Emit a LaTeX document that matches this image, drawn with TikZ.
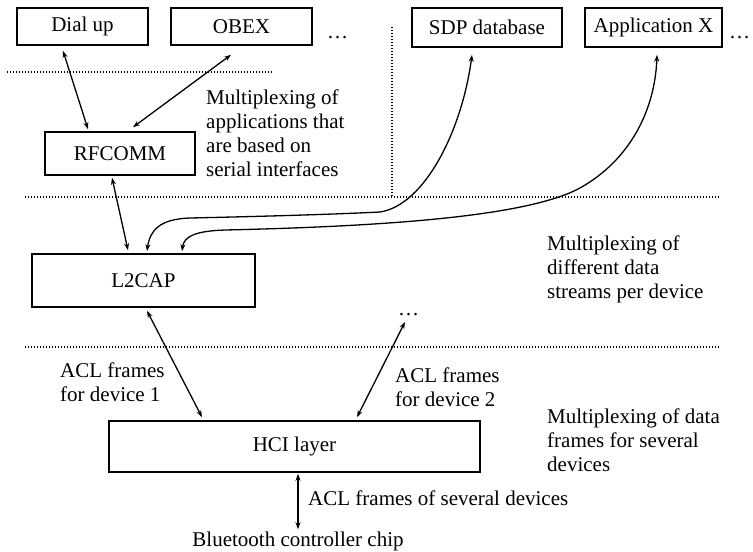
\documentclass[tikz,border=0pt]{standalone}
\usepackage{fontspec}
\setmainfont{Liberation Serif}
\usetikzlibrary{arrows.meta}
\begin{document}
\begin{tikzpicture}[x=1pt,y=-1pt,
  every node/.style={font=\fontsize{21}{24}\selectfont},
  box/.style={draw,line width=1.6pt,rectangle,inner sep=0pt},
  conn/.style={line width=1.3pt,{Stealth[length=7pt,width=5pt]}-{Stealth[length=7pt,width=5pt]}},
  sep/.style={line width=1.4pt,dash pattern=on 1.4pt off 1.6pt},
  lbl/.style={align=left,inner sep=0pt,anchor=north west}]
\useasboundingbox (0,0) rectangle (753,552);
% boxes
\node[box,minimum width=131pt,minimum height=37pt] (dial) at (82.5,26.5) {Dial up};
\node[box,minimum width=141pt,minimum height=37pt] (obex) at (241.5,26.5) {OBEX};
\node[box,minimum width=150pt,minimum height=39pt] (sdp) at (487,27.5) {SDP database};
\node[box,minimum width=137pt,minimum height=39pt] (appx) at (653.5,27.5) {Application X};
\node[box,minimum width=150pt,minimum height=43pt] (rfcomm) at (120,153.5) {RFCOMM};
\node[box,minimum width=223pt,minimum height=53pt] (l2cap) at (143.5,280.5) {L2CAP};
\node[box,minimum width=371pt,minimum height=51pt] (hci) at (294.5,446.5) {HCI layer};
% dots
\node[anchor=base west,inner sep=0pt] (dots1) at (327,38) {…};
\node[anchor=base west,inner sep=0pt] (dots3) at (729,38) {…};
\node[anchor=base west,inner sep=0pt] (dots2) at (398,315) {…};
\coordinate (d2) at (405,322);
% separators
\draw[sep] (7,72) -- (272,72);
\draw[sep] (25,197) -- (720,197);
\draw[sep] (25,347) -- (720,347);
\draw[sep] (392,27) -- (392,197);
% labels
\node[lbl] (m1) at (206,89.5) {Multiplexing of\\applications that\\are based on\\serial interfaces};
\node[lbl] (m2) at (547,235.5) {Multiplexing of\\different data\\streams per device};
\node[lbl] (m3) at (547,408.5) {Multiplexing of data\\frames for several\\devices};
\node[lbl] (a1) at (60,362.5) {ACL frames\\for device 1};
\node[lbl] (a2) at (395,367.5) {ACL frames\\for device 2};
\node[anchor=base west,inner sep=0pt] (a3) at (308,505) {ACL frames of several devices};
\node[anchor=base,inner sep=2pt] (chip) at (298,546) {Bluetooth controller chip};
% connectors
\draw[conn] ([xshift=-19.5pt,yshift=-5pt]dial.south) -- ([xshift=-32pt,yshift=2pt]rfcomm.north);
\draw[conn] ([xshift=-10.5pt,yshift=-9pt]obex.south) -- ([xshift=13pt,yshift=4pt]rfcomm.north);
\draw[conn] ([xshift=-8pt,yshift=-2pt]rfcomm.south) -- ([xshift=-15.5pt,yshift=3pt]l2cap.north);
\draw[conn] ([xshift=3.5pt,yshift=2pt]l2cap.north) .. controls (150,230) and (160,219) .. (190,218)
   .. controls (280,216) and (340,214) .. (380,212)
   .. controls (425,205) and (462,130) .. ([xshift=-15pt,yshift=-7pt]sdp.south);
\draw[conn] ([xshift=38.5pt,yshift=2pt]l2cap.north) .. controls (184,236) and (196,231) .. (225,230)
   .. controls (400,226) and (530,215) .. (580,188)
   .. controls (630,160) and (655,110) .. ([xshift=3.5pt,yshift=-7pt]appx.south);
\draw[conn] ([xshift=3.5pt,yshift=-3pt]l2cap.south) -- ([xshift=-92.5pt,yshift=3pt]hci.north);
\draw[conn] ([xshift=62.5pt,yshift=3pt]hci.north) -- (d2);
\draw[conn] ([xshift=3.5pt,yshift=-1pt]hci.south) -- (chip.north -| 298,0);
\end{tikzpicture}
\end{document}
